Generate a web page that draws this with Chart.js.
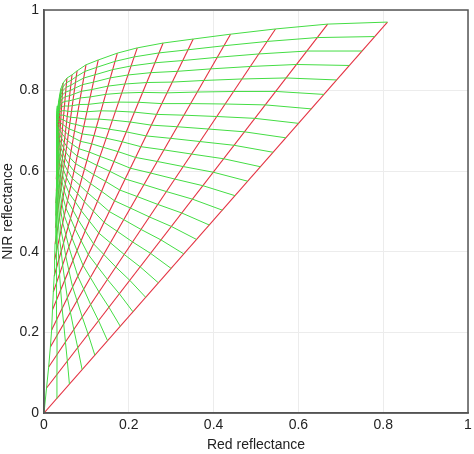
<!DOCTYPE html>
<html><head><meta charset="utf-8">
<script src="https://cdn.jsdelivr.net/npm/chart.js@4"></script>
<style>html,body{margin:0;padding:0;background:#fff}#w{width:474px;height:454px}</style>
</head><body><div id="w"><canvas id="c"></canvas></div>
<script>
// Iso-LAI lines (red): endpoints on the brightest-soil curve (top) and on the dark-soil curve (bottom)
const laiTopRed = [0.81,0.669,0.546,0.44,0.352,0.281,0.22,0.173,0.128,0.099,0.078,0.066,0.054,0.045,0.040,0.037,0.035,0.033,0.032,0.031,0.031,0.030];
const laiTopNir = [0.97,0.965,0.953,0.94,0.928,0.918,0.906,0.893,0.876,0.864,0.849,0.839,0.831,0.819,0.805,0.79,0.775,0.762,0.75,0.74,0.73,0.72];
const laiBotRed = [0,0.006,0.011,0.015,0.018,0.020,0.022,0.024,0.025,0.026,0.027,0.028,0.028,0.029,0.029,0.030,0.030,0.030,0.030,0.030,0.030,0.030];
const laiBotNir = [0,0.062,0.114,0.164,0.206,0.256,0.30,0.34,0.38,0.42,0.46,0.49,0.52,0.55,0.58,0.61,0.63,0.65,0.67,0.685,0.70,0.71];
// Soil brightness positions (green iso-soil lines), fraction along each iso-LAI line
const soilFrac = [0,0.037,0.074,0.111,0.148,0.185,0.222,0.259,0.296,0.333,0.370,0.407,0.444,0.481,0.519,0.556,0.593,0.630,0.667,0.704,0.741,0.778,0.815,0.852,0.889,0.926,0.963,1];
const tickVals = [0,0.2,0.4,0.6,0.8,1];
const tickLabels = ['0','0.2','0.4','0.6','0.8','1'];

const pt=(i,f)=>({x:laiBotRed[i]+f*(laiTopRed[i]-laiBotRed[i]), y:laiBotNir[i]+f*(laiTopNir[i]-laiBotNir[i])});
const ds=[];
soilFrac.forEach(f=>ds.push({data:laiTopRed.map((_,i)=>pt(i,f)),borderColor:'#44dd44',borderWidth:1,pointRadius:0,showLine:true,tension:0}));
laiTopRed.forEach((_,i)=>ds.push({data:[pt(i,0),pt(i,1)],borderColor:'#e43040',borderWidth:1.1,pointRadius:0,showLine:true,tension:0}));
const fmt=v=>{const k=tickVals.findIndex(t=>Math.abs(t-v)<1e-6);return k<0?'':tickLabels[k];};

new Chart(document.getElementById('c'),{type:'scatter',data:{datasets:ds},
options:{responsive:true,maintainAspectRatio:false,animation:false,
layout:{padding:{top:10,right:6,left:0,bottom:0}},
plugins:{legend:{display:false},tooltip:{enabled:false}},
scales:{
x:{type:'linear',min:0,max:1,afterFit:s=>{s.height=41;s.paddingRight=0;s.paddingLeft=0;},
 afterBuildTicks:s=>{s.ticks=tickVals.map(v=>({value:v}));},
 grid:{color:'#ececec',drawTicks:false},border:{color:'#555',width:1.5},
 ticks:{padding:4,color:'#222',callback:fmt,maxRotation:0,font:{family:'Liberation Sans',size:14}},
 title:{display:true,text:'Red reflectance',color:'#222',font:{family:'Liberation Sans',size:14},padding:{top:2,bottom:0}}},
y:{type:'linear',min:0,max:1,afterFit:s=>{s.width=44;s.paddingTop=0;s.paddingBottom=0;},
 afterBuildTicks:s=>{s.ticks=tickVals.map(v=>({value:v}));},
 grid:{color:'#ececec',drawTicks:false},border:{color:'#555',width:1.5},
 ticks:{padding:5,color:'#222',callback:fmt,font:{family:'Liberation Sans',size:14}},
 title:{display:true,text:'NIR reflectance',color:'#222',font:{family:'Liberation Sans',size:14},padding:{top:0,bottom:2}}}
}},
plugins:[{id:'frame',afterDraw(c){const a=c.chartArea,g=c.ctx;g.save();g.strokeStyle='#555';g.lineWidth=1.5;g.strokeRect(a.left,a.top,a.right-a.left,a.bottom-a.top);g.restore();}}]
});
</script></body></html>
